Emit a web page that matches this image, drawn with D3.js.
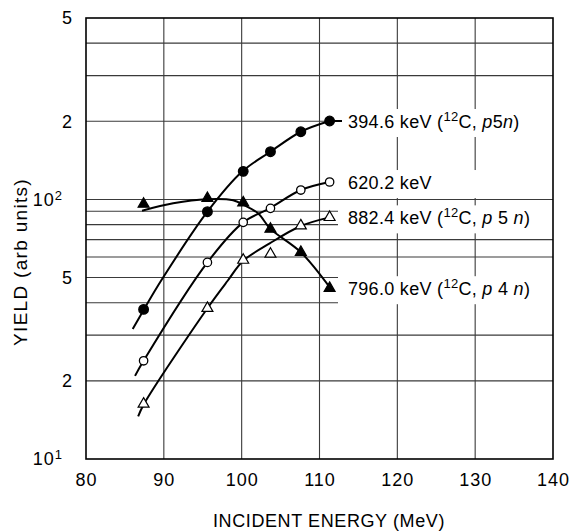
<!DOCTYPE html>
<html><head><meta charset="utf-8">
<script src="https://cdn.jsdelivr.net/npm/d3@7/dist/d3.min.js"></script>
<style>
html,body{margin:0;padding:0;background:#fff;}
svg{display:block;font-family:"Liberation Sans",Arial,sans-serif;}
</style></head>
<body><svg id="c" width="574" height="531"></svg>
<script>
// ---- data ----
const energies = [87.4, 95.6, 100.2, 103.7, 107.6, 111.3];
const yield394 = [37.7, 89.7, 128.3, 152.7, 182.3, 200.5];
const yield620 = [23.9, 57.2, 81.6, 92.4, 108.7, 116.7];
const yield882 = [16.3, 38.1, 58.4, 61.6, 79.2, 85.3];
const yield796 = [96.0, 101.0, 97.1, 76.9, 62.6, 45.5];

// fitted curves: [energy, yield]
const curve394 = [[86.0,31.7],[87.45,37.7],[89.7,48.9],[95.6,89.7],[100.1,128.3],[103.7,152.7],[107.6,182.3],[111.3,200.5]];
const curve620 = [[86.3,20.9],[87.4,23.9],[95.6,57.2],[100.2,81.6],[103.6,92.4],[107.6,108.7],[111.3,116.7]];
const curve882 = [[86.7,14.6],[87.45,16.3],[95.6,38.1],[98.2,48.6],[100.2,58.0],[103.6,67.7],[107.6,79.0],[111.3,85.3]];
const curve796 = [[87.2,90.5],[91.2,96.6],[95.5,100.2],[98.9,99.3],[100.2,95.5],[102.1,88.4],[103.7,77.0],[107.6,62.6],[111.4,45.5]];

const seriesEnergy = ["394.6", "620.2", "882.4", "796.0"];
const seriesNeutrons = ["5", "", "5", "4"];
const seriesSpaced = [false, false, true, true];

const xTicks = [80, 90, 100, 110, 120, 130, 140];
const xGrid = [90, 100, 110, 120, 130];
const yGrid = [20, 30, 40, 50, 60, 70, 80, 90, 100, 200, 300, 400];
const yTickValues = [10, 20, 50, 100, 200, 500];
const yTickText = ["10", "2", "5", "10", "2", "5"];
const yTickSup = ["1", "", "", "2", "", ""];

const xTitle = "INCIDENT ENERGY (MeV)";
const yTitle = "YIELD (arb units)";

// ---- drawing ----
const svg = d3.select("#c");
const L = 86, R = 553, T = 18, B = 459;
const x = d3.scaleLinear().domain([80, 140]).range([L, R]);
const y = d3.scaleLog().domain([10, 500]).range([B, T]);

svg.append("rect").attr("width", 574).attr("height", 531).attr("fill", "#fff");

const grid = svg.append("g").attr("stroke", "#3a3a3a").attr("stroke-width", 1.1);
grid.selectAll("line.v").data(xGrid).join("line")
  .attr("x1", d => x(d)).attr("x2", d => x(d)).attr("y1", T).attr("y2", B);
grid.selectAll("line.h").data(yGrid).join("line")
  .attr("x1", L).attr("x2", R).attr("y1", d => y(d)).attr("y2", d => y(d));

const series = [
  {vals: yield394, curve: curve394, sym: "circle", fill: true},
  {vals: yield620, curve: curve620, sym: "circle", fill: false},
  {vals: yield882, curve: curve882, sym: "tri", fill: false},
  {vals: yield796, curve: curve796, sym: "tri", fill: true}
];

// label boxes (white, hide grid behind labels)
const labelX = 348;
series.forEach((s, i) => {
  const cy = y(s.vals[s.vals.length - 1]);
  svg.append("rect").attr("x", 338).attr("y", cy - 12).attr("width", R - 338).attr("height", 28).attr("fill", "#fff");
});

const line = d3.line().x(d => x(d[0])).y(d => y(d[1])).curve(d3.curveCatmullRom.alpha(0.5));
series.forEach((s, i) => {
  svg.append("path").attr("d", line(s.curve)).attr("fill", "none").attr("stroke", "#000").attr("stroke-width", 2);
});
// leader for first label
svg.append("line").attr("x1", x(energies[5])).attr("x2", 342)
  .attr("y1", y(yield394[5])).attr("y2", y(yield394[5])).attr("stroke", "#000").attr("stroke-width", 2);

const tri = d3.symbol().type(d3.symbolTriangle).size(52);
series.forEach((s, i) => {
  const g = svg.append("g");
  const pts = energies.map((e, k) => [e, s.vals[k]]);
  if (s.sym === "circle") {
    g.selectAll("circle").data(pts).join("circle")
      .attr("cx", d => x(d[0])).attr("cy", d => y(d[1]))
      .attr("r", s.fill ? 4.8 : 4.2)
      .attr("fill", s.fill ? "#000" : "#fff").attr("stroke", "#000").attr("stroke-width", 1.3);
  } else {
    g.selectAll("path").data(pts).join("path")
      .attr("transform", d => `translate(${x(d[0])},${y(d[1])})`)
      .attr("d", tri())
      .attr("fill", s.fill ? "#000" : "#fff").attr("stroke", "#000").attr("stroke-width", 1.2);
  }
});

// series labels
series.forEach((s, i) => {
  const cy = y(s.vals[s.vals.length - 1]);
  const t = svg.append("text").attr("x", labelX).attr("y", cy + 6.5)
    .attr("font-size", 18).attr("fill", "#000").attr("letter-spacing", 0.3);
  t.append("tspan").text(seriesEnergy[i] + " keV");
  if (seriesNeutrons[i] !== "") {
    t.append("tspan").text(" (");
    t.append("tspan").attr("font-size", 13).attr("dy", -7).text("12");
    t.append("tspan").attr("dy", 7).text("C, ");
    t.append("tspan").attr("font-style", "italic").text("p");
    t.append("tspan").text((seriesSpaced[i] ? " " : "") + seriesNeutrons[i]);
    t.append("tspan").attr("font-style", "italic").text((seriesSpaced[i] ? " " : "") + "n");
    t.append("tspan").text(")");
  }
});

// frame
svg.append("rect").attr("x", L).attr("y", T).attr("width", R - L).attr("height", B - T)
  .attr("fill", "none").attr("stroke", "#000").attr("stroke-width", 1.6);

// x axis
const xAxis = svg.append("g").attr("transform", `translate(0,${B})`)
  .call(d3.axisBottom(x).tickValues(xTicks).tickSize(0).tickPadding(14).tickFormat(d3.format("d")));
xAxis.select(".domain").remove();
xAxis.selectAll("text").attr("font-size", 18).attr("font-family", "Liberation Sans, Arial, sans-serif")
  .attr("letter-spacing", 1).attr("fill", "#000");

// y axis
const yAxis = svg.append("g").attr("transform", `translate(${L},0)`)
  .call(d3.axisLeft(y).tickValues(yTickValues).tickSize(0).tickPadding(13).tickFormat((d, i) => yTickText[i]));
yAxis.select(".domain").remove();
yAxis.selectAll("text").attr("font-size", 18).attr("font-family", "Liberation Sans, Arial, sans-serif")
  .attr("fill", "#000").attr("letter-spacing", 1)
  .each(function(d, i) {
    if (yTickSup[i]) {
      const el = d3.select(this);
      el.attr("dx", -10);
      el.append("tspan").attr("font-size", 13).attr("dy", "-0.45em").text(yTickSup[i]);
    }
  });

// titles
svg.append("text").attr("x", 329).attr("y", 527).attr("text-anchor", "middle")
  .attr("font-size", 18).attr("letter-spacing", 0.6).attr("fill", "#000").text(xTitle);
svg.append("text").attr("transform", "translate(27,262) rotate(-90)").attr("text-anchor", "middle")
  .attr("font-size", 19).attr("letter-spacing", 1.3).attr("fill", "#000").text(yTitle);
</script></body></html>
